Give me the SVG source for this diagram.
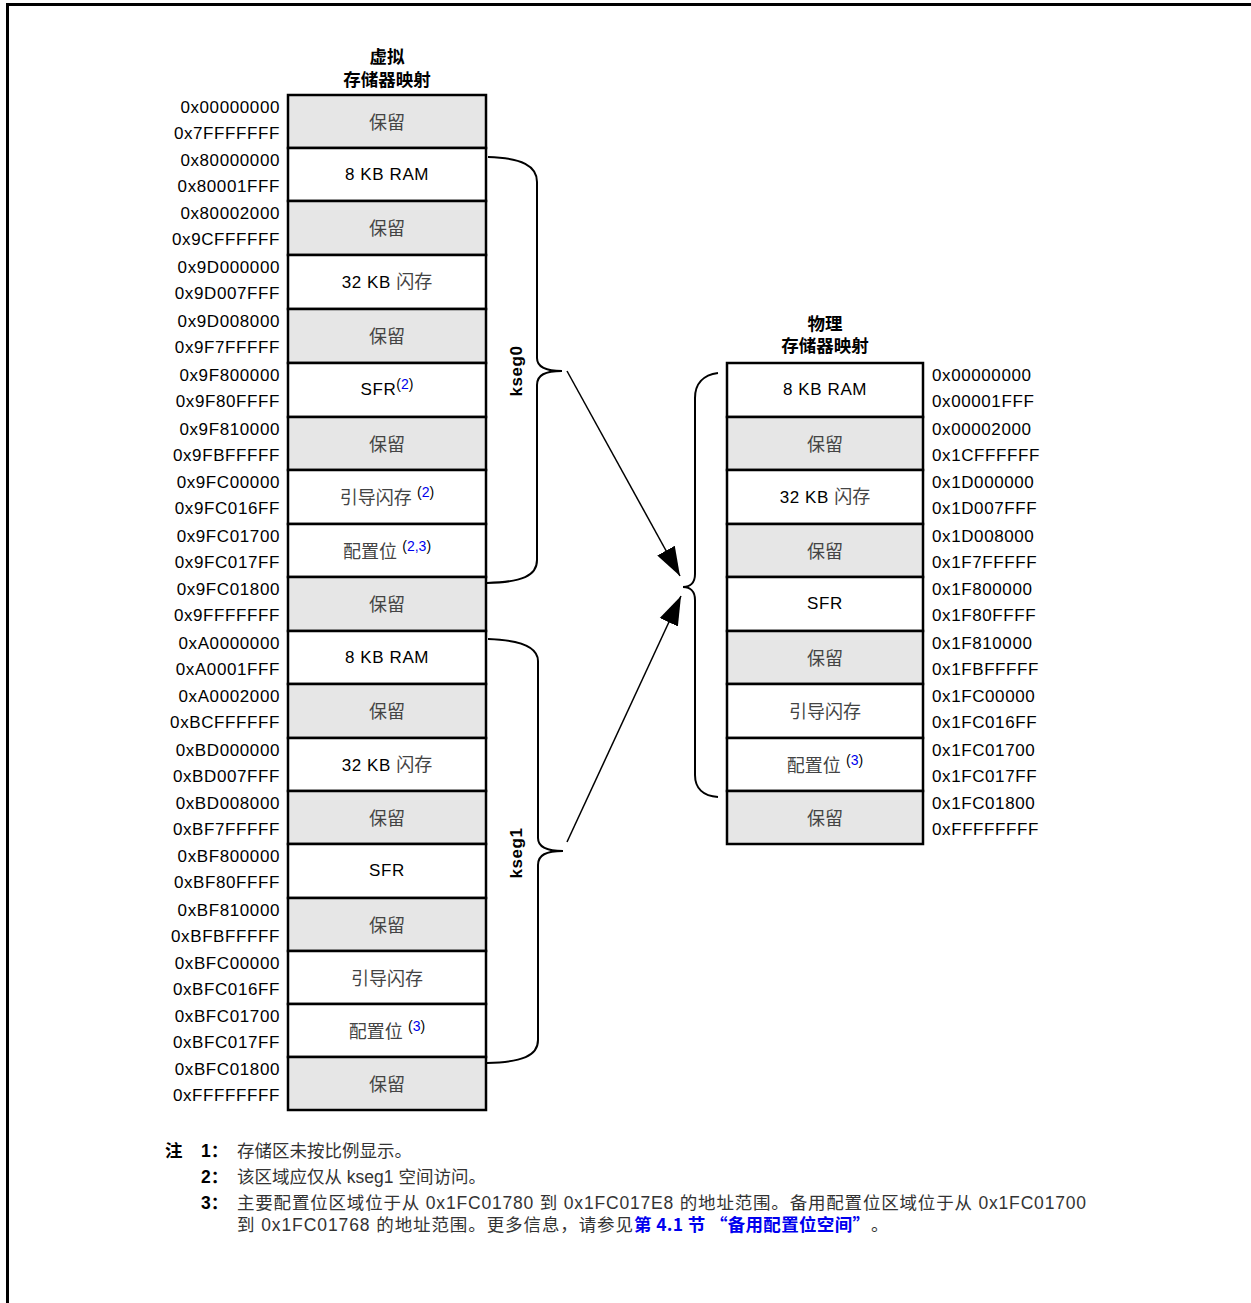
<svg xmlns="http://www.w3.org/2000/svg" width="1251" height="1303" viewBox="0 0 1251 1303">
<style>
  .box{stroke:#000;stroke-width:2.5}
  .res{fill:#e6e6e6}
  .wh{fill:#fff}
  text{font-family:"Liberation Sans","Noto Sans CJK SC",sans-serif;fill:#000}
  .al{font-size:17px;letter-spacing:0.6px;text-anchor:end}
  .ar{font-size:17px;letter-spacing:0.6px;text-anchor:start}
  .lb{font-size:17px;letter-spacing:0.6px;text-anchor:middle}
  .cj{font-family:"Noto Sans CJK SC",sans-serif;font-size:18px;letter-spacing:0;fill:#444}
  .sup{font-size:14px;letter-spacing:0}
  .bl{fill:#0000ee}
  .hd{font-family:"Noto Sans CJK SC",sans-serif;font-size:17.5px;font-weight:bold;text-anchor:middle}
  .ks{font-size:17px;font-weight:bold;letter-spacing:0.6px;text-anchor:middle}
  .nt{font-family:"Liberation Sans","Noto Sans CJK SC",sans-serif;font-size:17.5px;fill:#333}
  .nb{font-weight:bold;fill:#000}
  .cjf{font-family:"Noto Sans CJK SC",sans-serif}
  .con{fill:none;stroke:#000;stroke-width:2}
  .arr{fill:none;stroke:#000;stroke-width:1.5}
</style>
<defs>
  <marker id="ah" markerUnits="userSpaceOnUse" markerWidth="30" markerHeight="22" viewBox="0 0 30 22" refX="29" refY="11" orient="auto">
    <path d="M0,1 L29,11 L0,21 z" fill="#000"/>
  </marker>
</defs>

<path d="M7.5,1303 L7.5,4.5 L1251,4.5" fill="none" stroke="#000" stroke-width="3"/>

<g id="virtual-title">
  <text class="hd" x="387" y="63">虚拟</text>
  <text class="hd" x="387" y="85.5">存储器映射</text>
</g>
<g id="physical-title">
  <text class="hd" x="825" y="329.5">物理</text>
  <text class="hd" x="825" y="352">存储器映射</text>
</g>

<g id="virtual-map">
  <g id="v1"><rect class="box res" x="288" y="95" width="198" height="53"/><text class="lb cj" x="387" y="128.5">保留</text><text class="al" x="280" y="112.5">0x00000000</text><text class="al" x="280" y="138.5">0x7FFFFFFF</text></g>
  <g id="v2"><rect class="box wh" x="288" y="148" width="198" height="53"/><text class="lb" x="387" y="179.5">8 KB RAM</text><text class="al" x="280" y="165.5">0x80000000</text><text class="al" x="280" y="191.5">0x80001FFF</text></g>
  <g id="v3"><rect class="box res" x="288" y="201" width="198" height="54"/><text class="lb cj" x="387" y="235">保留</text><text class="al" x="280" y="218.5">0x80002000</text><text class="al" x="280" y="244.5">0x9CFFFFFF</text></g>
  <g id="v4"><rect class="box wh" x="288" y="255" width="198" height="54"/><text class="lb" x="387" y="288">32 KB <tspan class="cj">闪存</tspan></text><text class="al" x="280" y="272.5">0x9D000000</text><text class="al" x="280" y="298.5">0x9D007FFF</text></g>
  <g id="v5"><rect class="box res" x="288" y="309" width="198" height="54"/><text class="lb cj" x="387" y="343">保留</text><text class="al" x="280" y="326.5">0x9D008000</text><text class="al" x="280" y="352.5">0x9F7FFFFF</text></g>
  <g id="v6"><rect class="box wh" x="288" y="363" width="198" height="54"/><text class="lb" x="387" y="395">SFR<tspan class="sup" dy="-6">(<tspan class="bl">2</tspan>)</tspan></text><text class="al" x="280" y="380.5">0x9F800000</text><text class="al" x="280" y="406.5">0x9F80FFFF</text></g>
  <g id="v7"><rect class="box res" x="288" y="417" width="198" height="53"/><text class="lb cj" x="387" y="450.5">保留</text><text class="al" x="280" y="434.5">0x9F810000</text><text class="al" x="280" y="460.5">0x9FBFFFFF</text></g>
  <g id="v8"><rect class="box wh" x="288" y="470" width="198" height="54"/><text class="lb" x="387" y="504"><tspan class="cj">引导闪存</tspan> <tspan class="sup" dy="-7">(<tspan class="bl">2</tspan>)</tspan></text><text class="al" x="280" y="487.5">0x9FC00000</text><text class="al" x="280" y="513.5">0x9FC016FF</text></g>
  <g id="v9"><rect class="box wh" x="288" y="524" width="198" height="53"/><text class="lb" x="387" y="557.5"><tspan class="cj">配置位</tspan> <tspan class="sup" dy="-7">(<tspan class="bl">2,3</tspan>)</tspan></text><text class="al" x="280" y="541.5">0x9FC01700</text><text class="al" x="280" y="567.5">0x9FC017FF</text></g>
  <g id="v10"><rect class="box res" x="288" y="577" width="198" height="54"/><text class="lb cj" x="387" y="611">保留</text><text class="al" x="280" y="594.5">0x9FC01800</text><text class="al" x="280" y="620.5">0x9FFFFFFF</text></g>
  <g id="v11"><rect class="box wh" x="288" y="631" width="198" height="53"/><text class="lb" x="387" y="662.5">8 KB RAM</text><text class="al" x="280" y="648.5">0xA0000000</text><text class="al" x="280" y="674.5">0xA0001FFF</text></g>
  <g id="v12"><rect class="box res" x="288" y="684" width="198" height="54"/><text class="lb cj" x="387" y="718">保留</text><text class="al" x="280" y="701.5">0xA0002000</text><text class="al" x="280" y="727.5">0xBCFFFFFF</text></g>
  <g id="v13"><rect class="box wh" x="288" y="738" width="198" height="53"/><text class="lb" x="387" y="770.5">32 KB <tspan class="cj">闪存</tspan></text><text class="al" x="280" y="755.5">0xBD000000</text><text class="al" x="280" y="781.5">0xBD007FFF</text></g>
  <g id="v14"><rect class="box res" x="288" y="791" width="198" height="53"/><text class="lb cj" x="387" y="824.5">保留</text><text class="al" x="280" y="808.5">0xBD008000</text><text class="al" x="280" y="834.5">0xBF7FFFFF</text></g>
  <g id="v15"><rect class="box wh" x="288" y="844" width="198" height="54"/><text class="lb" x="387" y="876">SFR</text><text class="al" x="280" y="861.5">0xBF800000</text><text class="al" x="280" y="887.5">0xBF80FFFF</text></g>
  <g id="v16"><rect class="box res" x="288" y="898" width="198" height="53"/><text class="lb cj" x="387" y="931.5">保留</text><text class="al" x="280" y="915.5">0xBF810000</text><text class="al" x="280" y="941.5">0xBFBFFFFF</text></g>
  <g id="v17"><rect class="box wh" x="288" y="951" width="198" height="53"/><text class="lb cj" x="387" y="984.5">引导闪存</text><text class="al" x="280" y="968.5">0xBFC00000</text><text class="al" x="280" y="994.5">0xBFC016FF</text></g>
  <g id="v18"><rect class="box wh" x="288" y="1004" width="198" height="53"/><text class="lb" x="387" y="1037.5"><tspan class="cj">配置位</tspan> <tspan class="sup" dy="-7">(<tspan class="bl">3</tspan>)</tspan></text><text class="al" x="280" y="1021.5">0xBFC01700</text><text class="al" x="280" y="1047.5">0xBFC017FF</text></g>
  <g id="v19"><rect class="box res" x="288" y="1057" width="198" height="53"/><text class="lb cj" x="387" y="1090.5">保留</text><text class="al" x="280" y="1074.5">0xBFC01800</text><text class="al" x="280" y="1100.5">0xFFFFFFFF</text></g>
</g>

<g id="physical-map">
  <g id="p1"><rect class="box wh" x="727" y="363" width="196" height="54"/><text class="lb" x="825" y="395">8 KB RAM</text><text class="ar" x="932" y="380.5">0x00000000</text><text class="ar" x="932" y="406.5">0x00001FFF</text></g>
  <g id="p2"><rect class="box res" x="727" y="417" width="196" height="53"/><text class="lb cj" x="825" y="450.5">保留</text><text class="ar" x="932" y="434.5">0x00002000</text><text class="ar" x="932" y="460.5">0x1CFFFFFF</text></g>
  <g id="p3"><rect class="box wh" x="727" y="470" width="196" height="54"/><text class="lb" x="825" y="503">32 KB <tspan class="cj">闪存</tspan></text><text class="ar" x="932" y="487.5">0x1D000000</text><text class="ar" x="932" y="513.5">0x1D007FFF</text></g>
  <g id="p4"><rect class="box res" x="727" y="524" width="196" height="53"/><text class="lb cj" x="825" y="557.5">保留</text><text class="ar" x="932" y="541.5">0x1D008000</text><text class="ar" x="932" y="567.5">0x1F7FFFFF</text></g>
  <g id="p5"><rect class="box wh" x="727" y="577" width="196" height="54"/><text class="lb" x="825" y="609">SFR</text><text class="ar" x="932" y="594.5">0x1F800000</text><text class="ar" x="932" y="620.5">0x1F80FFFF</text></g>
  <g id="p6"><rect class="box res" x="727" y="631" width="196" height="53"/><text class="lb cj" x="825" y="664.5">保留</text><text class="ar" x="932" y="648.5">0x1F810000</text><text class="ar" x="932" y="674.5">0x1FBFFFFF</text></g>
  <g id="p7"><rect class="box wh" x="727" y="684" width="196" height="54"/><text class="lb cj" x="825" y="718">引导闪存</text><text class="ar" x="932" y="701.5">0x1FC00000</text><text class="ar" x="932" y="727.5">0x1FC016FF</text></g>
  <g id="p8"><rect class="box wh" x="727" y="738" width="196" height="53"/><text class="lb" x="825" y="771.5"><tspan class="cj">配置位</tspan> <tspan class="sup" dy="-7">(<tspan class="bl">3</tspan>)</tspan></text><text class="ar" x="932" y="755.5">0x1FC01700</text><text class="ar" x="932" y="781.5">0x1FC017FF</text></g>
  <g id="p9"><rect class="box res" x="727" y="791" width="196" height="53"/><text class="lb cj" x="825" y="824.5">保留</text><text class="ar" x="932" y="808.5">0x1FC01800</text><text class="ar" x="932" y="834.5">0xFFFFFFFF</text></g>
</g>

<g id="kseg0">
  <text class="ks" transform="translate(522,371) rotate(-90)">kseg0</text>
</g>
<g id="kseg1">
  <text class="ks" transform="translate(522,853) rotate(-90)">kseg1</text>
</g>

<g id="connectors">
  <path class="con" d="M488,157 C522,158 537,166 537,182 L537,358 C537,367 545,371 562,371 C545,371 537,375 537,385 L537,560 C537,576 522,582 487,583"/>
  <path class="con" d="M488,639 C522,640 538,647 538,661 L538,838 C538,847 546,851 563,851 C546,851 538,855 538,865 L538,1040 C538,1056 522,1062 487,1063"/>
  <path class="con" d="M718,373 C703,375 695,384 695,398 L695,574 C695,583 690,587 683,587 C690,587 695,591 695,600 L695,775 C695,788 703,796 718,797"/>
  <line class="arr" x1="567" y1="371" x2="680" y2="576" marker-end="url(#ah)"/>
  <line class="arr" x1="567" y1="842" x2="681" y2="596" marker-end="url(#ah)"/>
</g>

<g id="notes">
  <text class="nt nb cjf" x="165" y="1157">注</text>
  <text class="nt nb" x="201" y="1157">1<tspan class="cjf">：</tspan></text>
  <text class="nt" x="237" y="1157">存储区未按比例显示。</text>
  <text class="nt nb" x="201" y="1183">2<tspan class="cjf">：</tspan></text>
  <text class="nt" x="237" y="1183">该区域应仅从 kseg1 空间访问。</text>
  <text class="nt nb" x="201" y="1209">3<tspan class="cjf">：</tspan></text>
  <text class="nt" x="237" y="1209" textLength="849" lengthAdjust="spacing">主要配置位区域位于从 0x1FC01780 到 0x1FC017E8 的地址范围。备用配置位区域位于从 0x1FC01700</text>
  <text class="nt" x="237" y="1231" textLength="396" lengthAdjust="spacing">到 0x1FC01768 的地址范围。更多信息，请参见</text>
  <text class="nt cjf" x="634" y="1231" textLength="236" lengthAdjust="spacing" style="font-weight:bold;fill:#0000ee">第 4.1 节 “备用配置位空间”</text>
  <text class="nt" x="871" y="1231">。</text>
</g>
</svg>
